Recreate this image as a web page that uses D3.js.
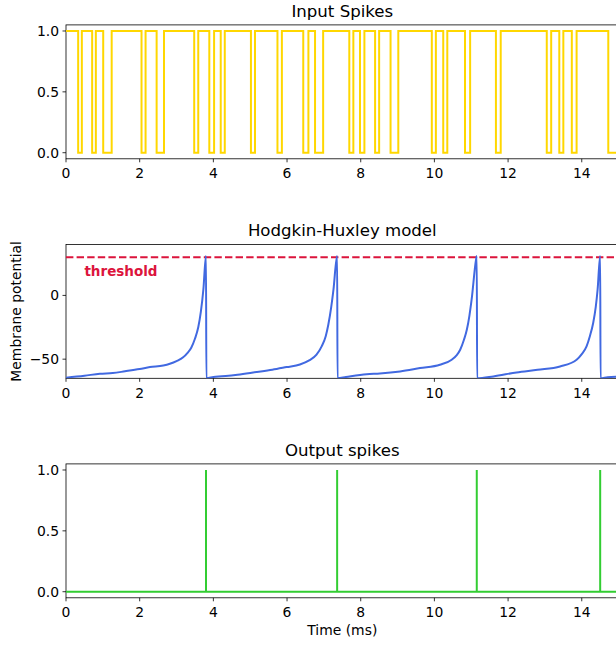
<!DOCTYPE html>
<html>
<head>
<meta charset="utf-8">
<script src="https://cdn.jsdelivr.net/npm/d3@7"></script>
<style>
  body { margin: 0; background: #fff; }
  text { font-family: "DejaVu Sans", sans-serif; fill: #000; }
</style>
</head>
<body>
<div id="chart"></div>
<script>
// input spike train: 1 everywhere except these off intervals (ms)
var inputOffStart = [0.33, 0.71, 1.01, 2.05, 2.46, 3.48, 3.89, 4.20, 5.02, 5.74, 6.44, 6.76,
                     7.69, 7.98, 8.39, 8.81, 9.93, 10.24, 10.83, 11.67, 13.05, 13.39, 13.73, 14.72];
var inputOffEnd   = [0.43, 0.81, 1.24, 2.16, 2.66, 3.59, 4.02, 4.31, 5.13, 5.86, 6.58, 6.98,
                     7.80, 8.10, 8.50, 9.02, 10.04, 10.35, 10.97, 11.80, 13.17, 13.50, 13.86, 15.0];

// membrane potential trace
var vmTime = [0, 0.5, 0.92, 1.27, 1.6, 2.0, 2.28, 2.64, 2.82, 3.0, 3.18, 3.3, 3.4, 3.5, 3.59, 3.66, 3.73, 3.80, 3.81,
              4.0, 4.6, 5.08, 5.6, 5.99, 6.35, 6.6, 6.8, 6.94, 7.05, 7.12, 7.2, 7.26, 7.36, 7.37,
              7.6, 8.16, 8.52, 9.07, 9.61, 10.15, 10.47, 10.6, 10.7, 10.8, 10.88, 10.95, 11.01, 11.13, 11.15, 11.16,
              11.6, 12.23, 12.8, 13.41, 13.86, 14.0, 14.13, 14.22, 14.31, 14.38, 14.43, 14.50, 14.51, 14.7, 15.0];
var vmValue = [-64.5, -63, -61.4, -60.9, -59.5, -57.7, -56.2, -55, -53.6, -51.5, -48.5, -45, -41, -34, -25, -13, 5, 31, -65,
               -64, -62.5, -60.4, -58.3, -56.2, -54.2, -51, -46.5, -40, -32, -23, -9, 4.5, 31, -65,
               -64, -61.8, -61.2, -59.6, -57, -54.4, -50.4, -47, -42.6, -35, -27, -16, -3.4, 28, 31, -65,
               -63.5, -60.4, -58.3, -55.7, -50.4, -46, -40, -32, -21.6, -9, 4.5, 31, -65, -64.2, -63.8];

var threshold = 30;

// output spike times (ms)
var outSpikes = [3.80, 7.36, 11.15, 14.50];

var xTicks = [0, 2, 4, 6, 8, 10, 12, 14];

var W = 616, H = 646;
var left = 66, right = 618.6;

var svg = d3.select("#chart").append("svg")
    .attr("width", W)
    .attr("height", H);

var x = d3.scaleLinear().domain([0, 15]).range([left, right]);

function drawPanel(id, top, bottom, yDomain, yTicks, yFormat, title) {
    var y = d3.scaleLinear().domain(yDomain).range([bottom, top]);

    svg.append("clipPath").attr("id", "clip" + id)
        .append("rect")
        .attr("x", left).attr("y", top)
        .attr("width", right - left).attr("height", bottom - top);

    var g = svg.append("g");

    // spines
    g.append("rect")
        .attr("x", left).attr("y", top)
        .attr("width", right - left).attr("height", bottom - top)
        .attr("fill", "none").attr("stroke", "#000").attr("stroke-width", 0.8);

    // x ticks
    xTicks.forEach(function(t) {
        g.append("line")
            .attr("x1", x(t)).attr("x2", x(t))
            .attr("y1", bottom).attr("y2", bottom + 3.5)
            .attr("stroke", "#000").attr("stroke-width", 0.8);
        g.append("text")
            .attr("x", x(t)).attr("y", bottom + 19.5)
            .attr("text-anchor", "middle")
            .attr("font-size", 13.9)
            .text(t);
    });

    // y ticks
    yTicks.forEach(function(v) {
        g.append("line")
            .attr("x1", left - 3.5).attr("x2", left)
            .attr("y1", y(v)).attr("y2", y(v))
            .attr("stroke", "#000").attr("stroke-width", 0.8);
        g.append("text")
            .attr("x", left - 7).attr("y", y(v) + 5)
            .attr("text-anchor", "end")
            .attr("font-size", 13.9)
            .text(yFormat(v));
    });

    g.append("text")
        .attr("x", (left + right) / 2).attr("y", top - 8.3)
        .attr("text-anchor", "middle")
        .attr("font-size", 16.6)
        .text(title);

    var plot = svg.append("g").attr("clip-path", "url(#clip" + id + ")");
    return {y: y, plot: plot};
}

function fmt1(v) { return v.toFixed(1); }
function fmtMinus(v) { return v < 0 ? "\u2212" + Math.abs(v) : "" + v; }

// panel 1: input spikes
var p1 = drawPanel(1, 24.9, 158.8, [-0.05, 1.05], [0, 0.5, 1], fmt1, "Input Spikes");
var inPts = [[0, 1]];
for (var i = 0; i < inputOffStart.length; i++) {
    inPts.push([inputOffStart[i], 1], [inputOffStart[i], 0], [inputOffEnd[i], 0], [inputOffEnd[i], 1]);
}
inPts.push([15, 1]);
var line1 = d3.line().x(function(d) { return x(d[0]); }).y(function(d) { return p1.y(d[1]); });
p1.plot.append("path")
    .attr("d", line1(inPts))
    .attr("fill", "none")
    .attr("stroke", "#FFD700")
    .attr("stroke-width", 2);

// panel 2: membrane potential
var p2 = drawPanel(2, 244.4, 378.3, [-65, 40], [-50, 0], fmtMinus, "Hodgkin-Huxley model");
p2.plot.append("line")
    .attr("x1", left).attr("x2", right)
    .attr("y1", p2.y(threshold)).attr("y2", p2.y(threshold))
    .attr("stroke", "#DC143C")
    .attr("stroke-width", 2)
    .attr("stroke-dasharray", "7.4,3.2");
var line2 = d3.line()
    .x(function(d, i) { return x(vmTime[i]); })
    .y(function(d) { return p2.y(d); })
    .curve(d3.curveMonotoneX);
p2.plot.append("path")
    .attr("d", line2(vmValue))
    .attr("fill", "none")
    .attr("stroke", "#4169E1")
    .attr("stroke-width", 2);
svg.append("text")
    .attr("x", x(0.5)).attr("y", p2.y(15))
    .attr("font-size", 13.5)
    .attr("font-weight", "bold")
    .style("fill", "#DC143C")
    .text("threshold");
svg.append("text")
    .attr("transform", "translate(20.5," + (244.4 + 378.3) / 2 + ") rotate(-90)")
    .attr("text-anchor", "middle")
    .attr("font-size", 13.9)
    .text("Membrane potential");

// panel 3: output spikes
var p3 = drawPanel(3, 463.9, 597.8, [-0.05, 1.05], [0, 0.5, 1], fmt1, "Output spikes");
var outPts = [[0, 0]];
outSpikes.forEach(function(t) { outPts.push([t, 0], [t, 1], [t, 0]); });
outPts.push([15, 0]);
p3.plot.append("path")
    .attr("d", line1.y(function(d) { return p3.y(d[1]); })(outPts))
    .attr("fill", "none")
    .attr("stroke", "#32CD32")
    .attr("stroke-width", 2);
svg.append("text")
    .attr("x", (left + right) / 2).attr("y", 634.5)
    .attr("text-anchor", "middle")
    .attr("font-size", 13.9)
    .text("Time (ms)");
</script>
</body>
</html>
